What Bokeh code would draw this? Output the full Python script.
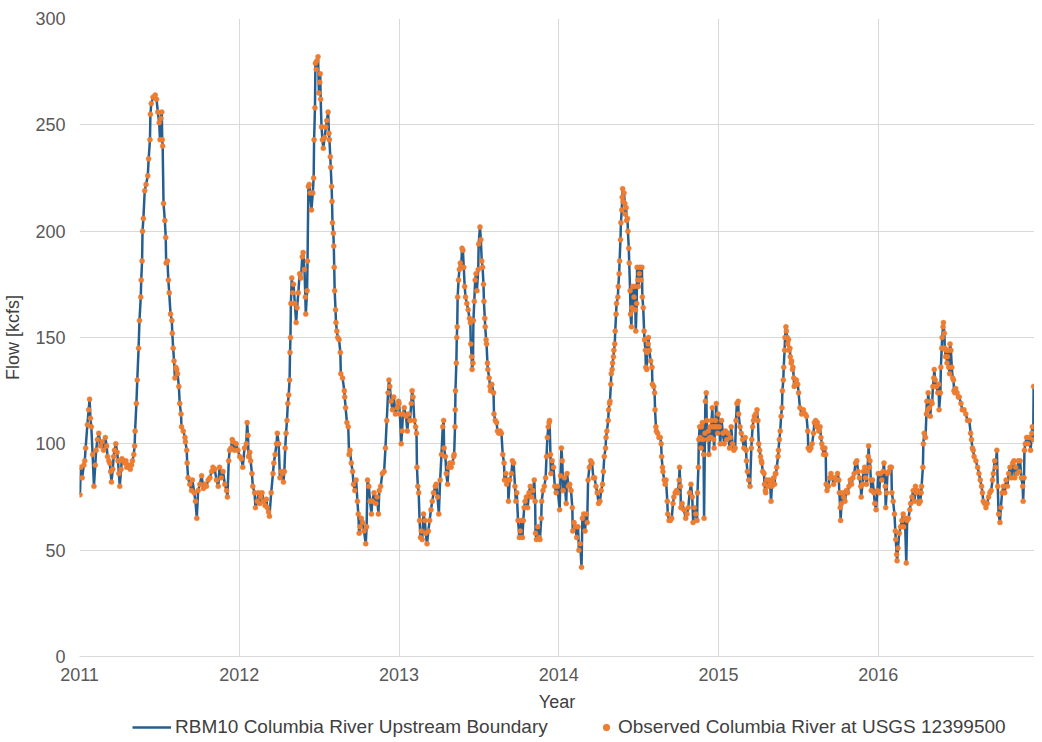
from bokeh.plotting import figure
from bokeh.layouts import column
from bokeh.models import FixedTicker, Legend, LegendItem, ColumnDataSource, Range1d
from bokeh.embed import file_html
from bokeh.resources import INLINE

years = [2011, 2012, 2013, 2014, 2015, 2016]
y_ticks = [0, 50, 100, 150, 200, 250, 300]
series_names = ["RBM10 Columbia River Upstream Boundary", "Observed Columbia River at USGS 12399500"]

doy_2011 = [1, 3, 6, 10, 12, 14, 18, 21, 23, 25, 27, 30, 33, 36, 38, 41, 44, 48, 52, 55, 59, 62, 64, 67, 69, 71, 73, 76, 78, 80, 83, 86, 88, 90, 92, 95, 97, 100, 103, 106, 108, 112, 116, 119, 121, 124, 126, 127, 130, 132, 135, 137, 140, 141, 143, 144, 146, 149, 152, 156, 158, 161, 162, 164, 168, 173, 176, 179, 182, 184, 186, 188, 189, 190, 192, 195, 197, 198, 201, 203, 205, 208, 211, 212, 214, 216, 218, 220, 222, 224, 227, 229, 232, 233, 237, 241, 242, 245, 246, 248, 252, 256, 258, 262, 265, 268, 271, 275, 279, 283, 286, 290, 294, 298, 302, 305, 309, 313, 317, 320, 324, 328, 332, 336, 338, 341, 343, 346, 349, 351, 354, 358, 362]
flow_2011 = [76, 89, 84, 90, 92, 98, 109, 116, 121, 112, 108, 95, 80, 90, 97, 102, 105, 99, 101, 97, 103, 99, 94, 92, 91, 87, 82, 88, 94, 97, 100, 96, 92, 86, 80, 88, 93, 92, 91, 92, 89, 90, 88, 90, 92, 95, 99, 106, 119, 130, 145, 158, 169, 177, 186, 200, 206, 219, 222, 226, 234, 243, 255, 260, 263, 264, 262, 256, 251, 243, 253, 256, 243, 240, 213, 205, 197, 185, 186, 177, 171, 161, 158, 152, 145, 139, 131, 136, 135, 133, 127, 119, 114, 108, 106, 103, 101, 97, 91, 84, 81, 78, 83, 77, 73, 65, 78, 81, 85, 79, 81, 80, 83, 84, 87, 89, 88, 83, 80, 89, 84, 87, 81, 78, 75, 92, 97, 98, 102, 101, 97, 100, 97]

doy_2012 = [1, 5, 8, 12, 16, 18, 20, 21, 24, 26, 29, 31, 35, 37, 41, 44, 47, 49, 52, 56, 59, 62, 64, 67, 69, 73, 77, 79, 82, 85, 87, 90, 93, 96, 99, 101, 103, 105, 107, 109, 111, 113, 115, 116, 117, 118, 120, 122, 124, 127, 130, 132, 135, 138, 141, 144, 146, 149, 151, 152, 155, 156, 158, 160, 162, 165, 168, 170, 171, 173, 174, 176, 177, 180, 182, 184, 185, 186, 188, 190, 192, 195, 198, 200, 203, 205, 206, 208, 209, 211, 212, 213, 215, 216, 217, 218, 220, 221, 223, 225, 228, 231, 232, 236, 240, 241, 243, 246, 249, 251, 253, 256, 259, 261, 264, 267, 270, 272, 274, 276, 279, 282, 285, 289, 291, 293, 296, 299, 302, 304, 308, 312, 315, 318, 320, 323, 327, 331, 334, 337, 340, 342, 344, 347, 350, 353, 357, 361, 364]
flow_2012 = [94, 93, 89, 98, 100, 110, 104, 94, 96, 92, 86, 80, 77, 70, 73, 77, 72, 75, 77, 73, 71, 74, 70, 68, 66, 77, 86, 91, 95, 100, 105, 100, 84, 87, 86, 82, 87, 98, 105, 111, 119, 123, 130, 143, 150, 166, 178, 171, 175, 166, 157, 164, 171, 180, 178, 188, 190, 182, 169, 161, 172, 186, 221, 222, 218, 210, 218, 225, 243, 258, 279, 276, 280, 282, 265, 270, 274, 262, 249, 243, 239, 244, 249, 252, 256, 246, 243, 235, 230, 221, 214, 204, 199, 193, 183, 172, 163, 157, 153, 150, 149, 143, 133, 131, 125, 122, 117, 110, 108, 95, 97, 91, 87, 81, 78, 83, 73, 67, 58, 61, 65, 63, 59, 53, 61, 83, 80, 73, 67, 73, 77, 72, 75, 67, 78, 80, 86, 87, 98, 111, 124, 130, 127, 120, 116, 122, 114, 117, 120]

doy_2013 = [0, 2, 5, 7, 9, 12, 16, 19, 22, 25, 28, 30, 32, 35, 38, 40, 41, 43, 45, 47, 49, 51, 53, 56, 59, 61, 64, 67, 70, 73, 76, 79, 83, 85, 88, 91, 94, 97, 100, 102, 103, 106, 108, 111, 113, 116, 119, 122, 125, 126, 128, 128.5, 129, 131, 132, 133, 134, 136, 138, 140, 142, 144, 146, 148, 150, 152, 155, 158, 161, 163, 164, 166, 167, 169, 170, 172, 174, 176, 178, 181, 182, 185, 187, 189, 191, 193, 194, 196, 197, 199, 200, 202, 203, 206, 208, 209, 212, 216, 217, 220, 223, 225, 228, 231, 234, 237, 240, 241, 244, 246, 249, 250, 253, 257, 259, 262, 265, 267, 269, 272, 275, 277, 280, 282, 284, 286, 288, 291, 294, 297, 300, 303, 306, 309, 311, 312, 314, 317, 320, 322, 325, 326, 329, 332, 335, 337, 339, 341, 343, 344, 346, 347, 350, 353, 356, 359, 362]
flow_2013 = [119, 114, 100, 106, 114, 117, 113, 106, 114, 111, 119, 125, 122, 111, 108, 105, 89, 80, 77, 64, 56, 59, 55, 67, 64, 58, 53, 59, 64, 69, 73, 77, 80, 81, 75, 67, 83, 95, 108, 111, 98, 94, 86, 81, 89, 91, 89, 91, 94, 95, 108, 116, 125, 138, 150, 155, 169, 177, 182, 185, 183, 192, 191, 183, 174, 169, 166, 163, 159, 157, 147, 141, 135, 138, 158, 167, 177, 180, 172, 182, 194, 202, 196, 186, 183, 175, 167, 159, 155, 149, 147, 138, 135, 131, 127, 125, 128, 124, 114, 111, 110, 106, 105, 106, 105, 95, 91, 83, 86, 81, 83, 73, 83, 86, 92, 91, 80, 73, 77, 64, 56, 59, 64, 56, 64, 70, 73, 75, 70, 77, 80, 75, 78, 83, 73, 58, 55, 61, 56, 55, 65, 73, 78, 80, 84, 94, 103, 108, 110, 111, 95, 86, 92, 89, 80, 77, 80]

doy_2014 = [2, 4, 6, 8, 10, 13, 17, 19, 22, 25, 28, 31, 32, 35, 38, 41, 44, 46, 49, 52, 54, 57, 60, 63, 65, 67, 70, 73, 76, 79, 82, 85, 88, 91, 94, 97, 100, 102, 104, 107, 108, 110, 113, 114, 116, 117, 119, 120, 122, 123, 125, 126, 128, 129, 131, 132, 135, 136, 138, 139, 141, 142, 144, 145, 146, 147, 149, 151, 152, 154, 155, 157, 158, 160, 161, 163, 164, 166, 167, 169, 170, 172, 173, 175, 176, 178, 179, 181, 182, 184, 185, 188, 190, 191, 193, 195, 196, 198, 199, 201, 202, 204, 205, 207, 210, 213, 214, 217, 219, 220, 222, 223, 226, 229, 232, 234, 235, 237, 238, 241, 243, 245, 248, 249, 252, 255, 258, 261, 263, 266, 269, 272, 275, 276, 278, 279, 282, 286, 290, 293, 296, 299, 302, 305, 307, 310, 313, 316, 317, 319, 320, 322, 323, 325, 326, 328, 329, 331, 332, 334, 335, 337, 338, 340, 342, 343, 345, 346, 348, 349, 351, 352, 354, 355, 357, 358, 360, 361, 363, 364]
flow_2014 = [69, 85, 98, 92, 78, 84, 72, 86, 80, 81, 78, 70, 59, 63, 61, 56, 61, 50, 53, 42, 65, 67, 59, 67, 63, 83, 89, 92, 91, 84, 84, 80, 77, 72, 73, 78, 81, 87, 94, 98, 103, 106, 111, 116, 119, 120, 128, 133, 135, 138, 141, 144, 147, 153, 161, 166, 169, 174, 180, 186, 196, 204, 210, 216, 220, 214, 218, 213, 208, 211, 205, 206, 200, 192, 185, 172, 161, 155, 164, 174, 163, 169, 174, 163, 153, 166, 183, 177, 174, 180, 183, 177, 183, 169, 164, 153, 149, 144, 136, 135, 143, 147, 150, 144, 139, 136, 128, 127, 124, 116, 108, 106, 105, 103, 103, 100, 94, 89, 87, 83, 81, 83, 73, 67, 64, 64, 65, 72, 75, 77, 78, 77, 83, 89, 80, 70, 72, 69, 65, 67, 70, 77, 81, 75, 63, 70, 67, 64, 77, 89, 102, 108, 103, 98, 108, 110, 102, 95, 65, 105, 120, 124, 111, 102, 106, 95, 103, 108, 103, 111, 117, 108, 102, 98, 108, 111, 119, 108, 105, 114]

doy_2015 = [2, 4, 7, 10, 13, 16, 19, 22, 25, 27, 29, 32, 35, 38, 40, 42, 45, 46, 49, 52, 55, 58, 61, 63, 64, 66, 69, 72, 75, 76, 78, 80, 82, 85, 88, 90, 92, 94, 96, 98, 99, 101, 104, 105, 107, 108, 110, 113, 116, 118, 120, 122, 123, 126, 128, 130, 131, 133, 136, 137, 139, 141, 143, 145, 146, 148, 149, 151, 152, 154, 155, 157, 158, 160, 161, 163, 164, 166, 167, 169, 170, 172, 173, 175, 178, 181, 183, 186, 190, 194, 198, 201, 204, 205, 208, 211, 214, 217, 219, 222, 224, 226, 229, 232, 234, 236, 238, 240, 243, 245, 246, 248, 251, 254, 257, 260, 263, 266, 269, 272, 275, 276, 278, 279, 281, 283, 286, 289, 292, 295, 298, 301, 304, 307, 310, 313, 316, 319, 322, 325, 326, 329, 331, 334, 336, 338, 340, 342, 343, 345, 346, 348, 349, 352, 355, 357, 360, 363]
flow_2015 = [108, 100, 111, 105, 100, 106, 102, 105, 98, 103, 108, 100, 97, 98, 111, 119, 120, 114, 108, 105, 102, 98, 103, 97, 92, 87, 83, 80, 98, 102, 108, 111, 113, 114, 116, 111, 100, 97, 94, 92, 91, 87, 86, 81, 78, 77, 83, 80, 83, 81, 73, 80, 83, 84, 81, 86, 86, 89, 94, 97, 102, 106, 113, 117, 125, 130, 136, 144, 150, 155, 153, 150, 147, 149, 144, 145, 141, 138, 139, 135, 136, 131, 127, 128, 130, 128, 124, 117, 114, 116, 114, 113, 106, 98, 97, 98, 100, 105, 110, 111, 108, 110, 106, 108, 103, 100, 98, 95, 98, 95, 81, 78, 80, 84, 86, 84, 81, 84, 83, 86, 83, 77, 70, 64, 72, 77, 75, 73, 78, 77, 80, 83, 81, 84, 86, 91, 92, 87, 84, 80, 75, 81, 87, 89, 84, 81, 87, 94, 99, 89, 92, 83, 78, 83, 77, 72, 69, 78]

doy_2016 = [0, 2, 5, 8, 11, 13, 16, 17, 19, 21, 24, 27, 30, 31, 34, 37, 39, 40, 42, 43, 45, 48, 51, 54, 57, 58, 61, 64, 66, 69, 72, 74, 77, 80, 83, 85, 87, 90, 93, 96, 98, 99, 102, 103, 105, 108, 110, 111, 113, 114, 117, 119, 121, 123, 125, 127, 128, 130, 133, 136, 138, 139, 142, 143, 145, 146, 148, 149, 151, 152, 154, 155, 157, 158, 160, 161, 163, 164, 166, 168, 170, 172, 173, 175, 177, 180, 183, 185, 189, 192, 196, 200, 204, 208, 211, 213, 215, 217, 219, 223, 227, 230, 233, 236, 238, 240, 243, 246, 249, 252, 255, 258, 261, 263, 266, 268, 271, 273, 275, 278, 280, 283, 286, 289, 292, 295, 298, 301, 304, 307, 310, 312, 314, 317, 320, 322, 324, 327, 330, 331, 333, 334, 336, 339, 342, 345, 348, 351, 352, 354, 355]
flow_2016 = [86, 77, 86, 83, 87, 91, 80, 70, 77, 86, 87, 89, 89, 77, 73, 67, 59, 55, 48, 45, 51, 58, 61, 64, 67, 61, 65, 44, 64, 65, 69, 72, 75, 78, 73, 80, 77, 78, 72, 73, 77, 80, 89, 100, 105, 103, 114, 120, 116, 124, 117, 113, 120, 119, 127, 131, 135, 130, 127, 124, 128, 116, 124, 136, 145, 150, 155, 157, 152, 145, 141, 144, 138, 141, 144, 136, 133, 147, 144, 136, 131, 130, 125, 124, 126, 124, 122, 122, 119, 116, 116, 114, 111, 111, 105, 102, 98, 97, 94, 92, 89, 86, 83, 80, 77, 73, 72, 70, 72, 75, 77, 78, 83, 86, 92, 89, 97, 80, 67, 63, 70, 77, 80, 77, 83, 80, 86, 89, 84, 91, 92, 84, 89, 86, 92, 87, 92, 84, 80, 73, 84, 97, 100, 103, 100, 103, 97, 105, 108, 102, 127]

doys = [doy_2011, doy_2012, doy_2013, doy_2014, doy_2015, doy_2016]
flows = [flow_2011, flow_2012, flow_2013, flow_2014, flow_2015, flow_2016]

xs, ys = [], []
for yr, d, f in zip(years, doys, flows):
    xs += [yr + di / 365.0 for di in d]
    ys += f

src = ColumnDataSource(dict(x=xs, y=ys))

FONT = "Liberation Sans"
LINE_COLOR = "#255E91"
DOT_COLOR = "#ED7D31"

p = figure(width=1034, height=714, output_backend="svg", toolbar_location=None,
           x_range=Range1d(2011, 2016.978), y_range=Range1d(0, 300),
           min_border_left=74, min_border_right=0, min_border_top=18, min_border_bottom=58)
p.outline_line_color = None
p.background_fill_color = "white"

p.line("x", "y", source=src, line_color=LINE_COLOR, line_width=2.5)
p.scatter("x", "y", source=src, size=5, fill_color=DOT_COLOR, line_color=DOT_COLOR, line_width=0.5)

p.xaxis.ticker = FixedTicker(ticks=years)
p.yaxis.ticker = FixedTicker(ticks=y_ticks)
p.xgrid.ticker = FixedTicker(ticks=years)
p.ygrid.ticker = FixedTicker(ticks=y_ticks)
for g in (p.xgrid, p.ygrid):
    g.grid_line_color = "#D9D9D9"
    g.grid_line_width = 1

for ax in (p.xaxis, p.yaxis):
    ax.major_tick_line_color = None
    ax.minor_tick_line_color = None
    ax.major_tick_out = 0
    ax.major_tick_in = 0
    ax.minor_tick_out = 0
    ax.major_label_text_font = FONT
    ax.major_label_text_font_size = "18px"
    ax.major_label_text_color = "#595959"
    ax.axis_label_text_font = FONT
    ax.axis_label_text_font_size = "18px"
    ax.axis_label_text_font_style = "normal"
    ax.axis_label_text_color = "#404040"

p.xaxis.axis_line_color = "#D9D9D9"
p.yaxis.axis_line_color = None
p.xaxis.axis_label = "Year"
p.yaxis.axis_label = "Flow [kcfs]"
p.xaxis.major_label_standoff = 11
p.xaxis.axis_label_standoff = 8
p.yaxis.major_label_standoff = 14
p.yaxis.axis_label_standoff = 9

# legend strip below the chart (its renderers use the same data, outside the strip's range)
pl = figure(width=1034, height=26, output_backend="svg", toolbar_location=None,
            x_range=Range1d(0, 1), y_range=Range1d(0, 1),
            min_border_left=0, min_border_right=0, min_border_top=0, min_border_bottom=0)
pl.axis.visible = False
pl.grid.visible = False
pl.outline_line_color = None
leg_line = pl.line("x", "y", source=src, line_color=LINE_COLOR, line_width=2.5)
leg_dot = pl.scatter("x", "y", source=src, size=5, fill_color=DOT_COLOR, line_color=DOT_COLOR)

def make_legend(label, renderer, loc, gw):
    lg = Legend(items=[LegendItem(label=label, renderers=[renderer])], location=loc,
                orientation="horizontal")
    lg.label_text_font = FONT
    lg.label_text_font_size = "19px"
    lg.label_text_color = "#404040"
    lg.border_line_color = None
    lg.background_fill_alpha = 0
    lg.padding = 0
    lg.margin = 0
    lg.glyph_width = gw
    lg.glyph_height = 22
    lg.label_height = 22
    lg.label_standoff = 4
    return lg

pl.add_layout(make_legend(series_names[0], leg_line, (53, 2), 39))
pl.add_layout(make_legend(series_names[1], leg_dot, (519, 2), 16))

layout = column(p, pl, spacing=0)
open("out.html", "w").write(file_html(layout, INLINE))
